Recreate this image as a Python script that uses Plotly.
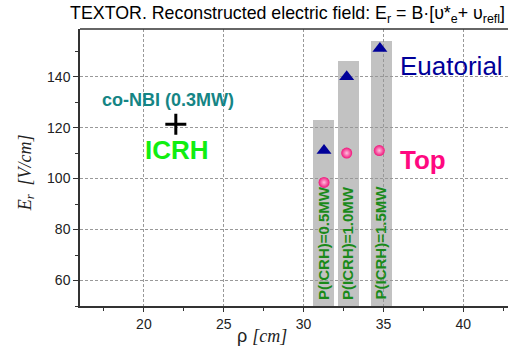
import plotly.graph_objects as go

# Data
bar_x = [31.25, 32.8, 34.86]
bar_top = [123, 146, 154]
bar_width = [1.35, 1.35, 1.3]
bar_labels = ["P(ICRH)=0.5MW", "P(ICRH)=1.0MW", "P(ICRH)=1.5MW"]
label_x = [31.28, 32.78, 34.82]
eq_x = [31.28, 32.7, 34.78]
eq_y = [111, 140, 151]
top_x = [31.28, 32.7, 34.74]
top_y = [98.5, 110, 111]
nbi_x = [22.0]
nbi_y = [121.3]

SANS = "Liberation Sans"
SERIF = "Liberation Serif"

base_val = 50
fig = go.Figure()
fig.add_trace(go.Bar(
    x=bar_x, y=[t - base_val for t in bar_top], base=base_val, width=bar_width,
    marker=dict(color="rgba(150,150,150,0.58)", line=dict(width=0)),
    showlegend=False, hoverinfo="skip"))

for lx, lab in zip(label_x, bar_labels):
    fig.add_annotation(x=lx, y=51.6, text="<b>" + lab + "</b>", showarrow=False,
                       textangle=-90, xanchor="center", yanchor="bottom",
                       font=dict(family=SANS, size=15, color="#1a8a1a"))

fig.add_trace(go.Scatter(
    x=eq_x, y=eq_y, mode="markers",
    marker=dict(symbol="triangle-up", size=13, color="#000099"),
    showlegend=False))
fig.add_trace(go.Scatter(
    x=top_x, y=top_y, mode="markers",
    marker=dict(symbol="circle", size=11, color="#f0147a",
                gradient=dict(type="radial", color="#ffc0e0")),
    showlegend=False))
fig.add_trace(go.Scatter(
    x=nbi_x, y=nbi_y, mode="markers",
    marker=dict(symbol="cross-thin", size=15, line=dict(color="black", width=3)),
    showlegend=False))

fig.add_annotation(x=21.51, y=130.8, text="<b>co-NBI (0.3MW)</b>", showarrow=False,
                   font=dict(family=SANS, size=18, color="#158585"))
fig.add_annotation(x=22.05, y=111.2, text="<b>ICRH</b>", showarrow=False,
                   font=dict(family=SANS, size=26, color="#11ee11"))
fig.add_annotation(x=35.91, y=144.3, text="Euatorial", showarrow=False, xanchor="left",
                   font=dict(family=SANS, size=26, color="#000099"))
fig.add_annotation(x=35.91, y=107.3, text="<b>Top</b>", showarrow=False, xanchor="left",
                   font=dict(family=SANS, size=26, color="#ff0880"))

# axis titles
fig.add_annotation(xref="paper", yref="paper", x=(262 - 80) / 428, y=-(336 - 305.7) / 277.0,
                   xanchor="center", yanchor="middle",
                   text="ρ <span style='font-family:Liberation Serif'><i>[cm]</i></span>",
                   showarrow=False, font=dict(family=SANS, size=18, color="#222"))
fig.add_annotation(xref="paper", yref="paper", x=-(80 - 26) / 428, y=(305.7 - 173) / 277.0,
                   xanchor="center", yanchor="middle",
                   text="<i>E</i><sub><i>r</i></sub>  <i>[V/cm]</i>", textangle=-90,
                   showarrow=False, font=dict(family=SERIF, size=18, color="#222"))

# top frame line
fig.add_shape(type="line", xref="paper", yref="paper", x0=0, x1=1, y0=1, y1=1,
              line=dict(color="#333", width=1.5))

grid = dict(showgrid=True, gridcolor="#999", gridwidth=1, griddash="3px,2px")
fig.update_xaxes(range=[16, 42.8], tickvals=[20, 25, 30, 35, 40], ticks="outside", ticklen=4,
                 tickcolor="#333", showline=True, linecolor="#333", linewidth=1.5,
                 zeroline=False, tickfont=dict(family=SANS, size=14, color="#222"),
                 minor=dict(tickvals=[17.5, 22.5, 27.5, 32.5, 37.5, 42.5], ticks="outside",
                            ticklen=3, tickcolor="#333", showgrid=False),
                 **grid)
fig.update_yaxes(range=[50, 158.7], tickvals=[60, 80, 100, 120, 140], ticks="outside", ticklen=5,
                 tickcolor="#333", showline=True, linecolor="#333", linewidth=1.5,
                 zeroline=False, tickfont=dict(family=SANS, size=14, color="#222"),
                 minor=dict(tickvals=[50, 70, 90, 110, 130, 150], ticks="outside",
                            ticklen=3, tickcolor="#333", showgrid=False),
                 **grid)

fig.update_layout(
    width=508, height=351,
    margin=dict(l=80, r=0, t=29, b=45),
    paper_bgcolor="white", plot_bgcolor="white",
    title=dict(text="TEXTOR. Reconstructed electric field: E<sub>r</sub> = B·[υ*<sub>e</sub>+ υ<sub>refl</sub>]",
               xref="container", x=505 / 508, xanchor="right",
               yref="container", y=1 - 13 / 351, yanchor="middle",
               font=dict(family=SANS, size=17.8, color="black")),
    font=dict(family=SANS),
    bargap=0,
)

fig.write_html("out.html", config={"displayModeBar": False},
               post_script="document.body.style.margin='0';document.body.style.overflow='hidden';")
